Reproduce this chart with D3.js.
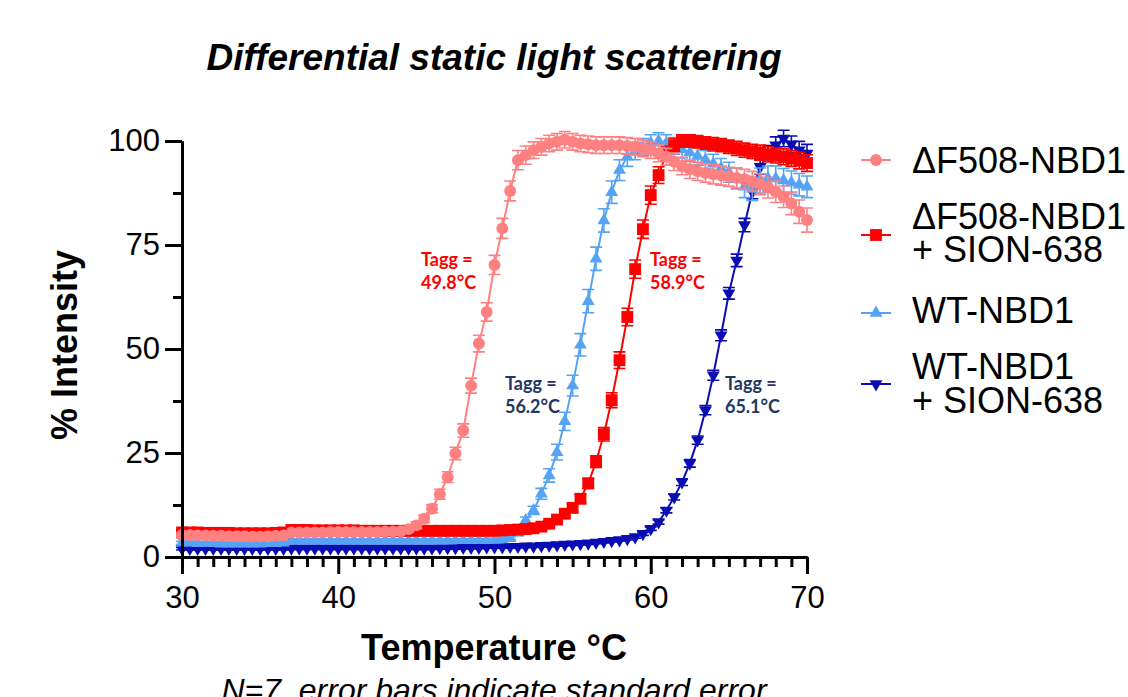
<!DOCTYPE html>
<html><head><meta charset="utf-8">
<script src="https://cdn.jsdelivr.net/npm/d3@7"></script>
<style>body{margin:0;background:#fff}svg{display:block}</style>
</head><body>
<svg id="chart" width="1128" height="697"></svg>
<script>
// ---------- DATA ----------
const temps = [30,30.5,31,31.5,32,32.5,33,33.5,34,34.5,35,35.5,36,36.5,37,37.5,38,38.5,39,39.5,40,40.5,41,41.5,42,42.5,43,43.5,44,44.5,45,45.5,46,46.5,47,47.5,48,48.5,49,49.5,50,50.5,51,51.5,52,52.5,53,53.5,54,54.5,55,55.5,56,56.5,57,57.5,58,58.5,59,59.5,60,60.5,61,61.5,62,62.5,63,63.5,64,64.5,65,65.5,66,66.5,67,67.5,68,68.5,69,69.5,70];

const seriesLabels = [["ΔF508-NBD1"], ["ΔF508-NBD1", "+ SION-638"], ["WT-NBD1"], ["WT-NBD1", "+ SION-638"]];

const dF508 = [5.3,5.3,5.2,5.2,5.1,5.1,5.0,5.0,5.0,4.9,4.9,5.0,5.1,5.2,
  5.9,5.9,5.9,5.9,5.9,6.0,6.0,6.0,6.0,6.0,6.0,6.0,6.1,6.1,6.2,
  6.7,7.6,9.2,11.6,15.1,19.2,24.9,30.4,41.2,51.3,58.9,70.2,79.0,88.0,95.4,
  96.6,97.8,98.6,99.4,99.8,100.3,99.8,99.4,99.2,99.0,99.0,99.0,99.0,98.8,98.6,98.2,97.8,
  97.0,96.2,95.0,94.0,93.2,92.7,92.3,92.0,91.7,91.4,91.1,90.8,90.3,89.6,88.8,87.8,86.6,85.0,83.0,81.0];
const dF508Err = [0.4,0.4,0.4,0.4,0.4,0.4,0.4,0.4,0.4,0.4,0.4,0.4,0.4,0.4,0.4,0.4,0.4,0.4,0.4,0.4,0.4,0.4,0.4,0.4,0.4,0.4,0.4,0.4,0.4,
  0.6,0.8,0.9,1.0,1.2,1.3,1.5,1.6,
  1.8,2.0,2.2,2.3,2.4,2.4,2.3,2.2,
  2.0,2.0,2.0,2.0,2.0,2.0,2.0,2.0,2.0,2.0,2.0,2.0,2.0,2.0,2.0,2.0,
  2.0,2.0,2.1,2.1,2.2,2.2,2.2,2.3,2.3,2.3,2.4,2.4,2.4,2.5,2.5,2.6,2.6,2.7,2.8,2.9];

const dF508Sion = [5.9,5.9,5.9,5.8,5.8,5.8,5.8,5.7,5.7,5.7,5.7,5.7,5.8,5.9,
  6.5,6.5,6.5,6.4,6.4,6.4,6.4,6.4,6.4,6.3,6.3,6.3,6.3,6.3,6.3,6.3,6.3,6.3,6.3,6.3,6.3,6.3,6.3,6.3,6.3,6.3,6.3,
  6.4,6.5,6.6,6.7,6.9,7.3,8.0,9.0,10.4,11.8,14.0,
  17.7,22.9,29.5,37.7,47.3,57.7,69.2,78.8,87.0,91.8,97.0,99.0,
  100.0,100.0,99.8,99.5,99.2,99.0,98.6,98.2,97.8,97.5,97.2,96.8,96.5,96.2,95.8,95.3,94.7];
const dF508SionErr = [0.4,0.4,0.4,0.4,0.4,0.4,0.4,0.4,0.4,0.4,0.4,0.4,0.4,0.4,0.4,0.4,0.4,0.4,0.4,0.4,0.4,0.4,0.4,0.4,0.4,0.4,0.4,0.4,0.4,0.4,0.4,0.4,0.4,0.4,0.4,0.4,0.4,0.4,0.4,0.4,0.4,
  0.4,0.5,0.5,0.5,0.6,0.6,0.7,0.8,0.9,1.0,1.1,
  1.2,1.4,1.6,1.8,2.0,2.1,2.2,2.2,2.2,2.0,1.8,1.6,
  1.5,1.5,1.5,1.5,1.6,1.6,1.6,1.7,1.7,1.7,1.8,1.8,1.8,1.9,1.9,2.0,2.0];

const wt = [3.4,3.4,3.3,3.3,3.3,3.2,3.2,3.2,3.2,3.2,3.2,3.3,3.3,3.4,
  3.9,3.9,3.9,3.9,3.9,3.9,3.9,3.9,3.9,3.9,3.9,3.9,3.9,3.9,3.9,3.9,3.9,3.9,3.9,3.9,3.9,4.0,4.0,4.0,4.0,4.0,4.1,4.2,4.5,
  5.8,8.8,11.2,15.2,19.6,25.2,32.6,41.2,51.0,61.5,
  71.7,80.9,87.7,93.0,96.2,97.6,98.6,99.5,100.0,99.5,
  98.8,98.0,97.2,96.4,95.5,94.5,93.5,92.5,91.0,89.0,88.5,90.5,91.0,91.0,90.5,90.0,89.5,89.0];
const wtErr = [0.4,0.4,0.4,0.4,0.4,0.4,0.4,0.4,0.4,0.4,0.4,0.4,0.4,0.4,0.4,0.4,0.4,0.4,0.4,0.4,0.4,0.4,0.4,0.4,0.4,0.4,0.4,0.4,0.4,0.4,0.4,0.4,0.4,0.4,0.4,0.4,0.4,0.4,0.4,0.4,0.4,0.4,0.4,
  0.6,0.8,1.0,1.3,1.6,1.9,2.2,2.5,2.7,2.8,
  2.8,2.8,2.7,2.5,2.3,2.1,2.0,2.0,2.0,2.0,
  2.0,2.1,2.1,2.2,2.2,2.3,2.3,2.4,2.5,2.6,2.8,3.0,3.0,3.0,2.9,2.8,2.7,2.6];

const wtSion = [2.0,2.0,2.0,2.0,2.0,2.0,2.0,2.0,2.0,2.0,2.0,2.0,2.0,2.0,
  2.1,2.1,2.1,2.1,2.1,2.1,2.1,2.1,2.1,2.1,2.1,2.1,2.1,2.1,2.1,2.1,2.1,2.1,2.1,
  2.2,2.2,2.2,2.3,2.3,2.3,2.4,2.4,2.4,2.5,2.5,2.6,
  2.6,2.7,2.8,2.9,3.0,3.1,3.2,3.3,3.5,3.7,3.9,4.1,
  4.4,4.8,5.6,6.8,8.4,11.2,14.4,18.0,22.5,28.1,35.3,43.7,53.3,63.4,71.3,79.8,87.8,93.8,97.0,99.0,100.6,99.2,97.8,97.0];
const wtSionErr = [0.3,0.3,0.3,0.3,0.3,0.3,0.3,0.3,0.3,0.3,0.3,0.3,0.3,0.3,0.3,0.3,0.3,0.3,0.3,0.3,0.3,0.3,0.3,0.3,0.3,0.3,0.3,0.3,0.3,0.3,0.3,0.3,0.3,0.3,0.3,0.3,0.3,0.3,0.3,0.3,0.3,0.3,0.3,0.3,0.3,0.3,0.3,0.3,0.3,0.3,0.3,0.3,0.3,0.3,0.3,0.3,0.3,
  0.3,0.3,0.4,0.4,0.5,0.6,0.7,0.8,0.9,1.0,1.1,1.2,
  1.3,1.4,1.5,1.6,1.7,1.8,1.9,2.0,2.0,2.0,2.1,2.2];

const taggValues = ["49.8", "58.9", "56.2", "65.1"];
const xTicks = [30, 40, 50, 60, 70];
const xMinorTicks = [31,32,33,34,35,36,37,38,39,41,42,43,44,45,46,47,48,49,51,52,53,54,55,56,57,58,59,61,62,63,64,65,66,67,68,69];
const yTicks = [0, 25, 50, 75, 100];
const yMinorTicks = [12.5, 37.5, 62.5, 87.5];
const titleText = "Differential static light scattering";
const xLabel = "Temperature °C";
const yLabel = "% Intensity";
const footnote = "N=7, error bars indicate standard error";

// ---------- CHART ----------
const FONT = "'Liberation Sans', Arial, sans-serif";
const svg = d3.select("#chart");
svg.append("rect").attr("width", 1128).attr("height", 697).attr("fill", "#fff");

const x = d3.scaleLinear().domain([30, 70]).range([182, 807]);
const y = d3.scaleLinear().domain([0, 100]).range([557, 141]);

const colors = ["#FF8080", "#FF0000", "#55A3F5", "#0A0DB4"];
const seriesData = [
  {vals: dF508, err: dF508Err, sym: d3.symbolCircle, size: 112, rot: 0},
  {vals: dF508Sion, err: dF508SionErr, sym: d3.symbolSquare, size: 140, rot: 0},
  {vals: wt, err: wtErr, sym: d3.symbolTriangle, size: 72, rot: 0},
  {vals: wtSion, err: wtSionErr, sym: d3.symbolTriangle, size: 72, rot: 180}
];

// draw back to front: last series at back
const plot = svg.append("g");
for (let s = seriesData.length - 1; s >= 0; s--) {
  const sd = seriesData[s];
  const col = colors[s];
  const pts = temps.map((t, i) => ({t, v: sd.vals[i], e: sd.err[i]}));
  const g = plot.append("g");
  g.append("path").datum(pts)
    .attr("fill", "none").attr("stroke", col).attr("stroke-width", 2)
    .attr("d", d3.line().x(d => x(d.t)).y(d => y(d.v)));
  g.selectAll("path.eb").data(pts).join("path").attr("class", "eb")
    .attr("fill", "none").attr("stroke", col).attr("stroke-width", 1.6)
    .attr("d", d => {
      const cx = x(d.t), y1 = y(d.v + d.e), y2 = y(d.v - d.e);
      return `M${cx-6},${y1}H${cx+6}M${cx},${y1}V${y2}M${cx-6},${y2}H${cx+6}`;
    });
  const symGen = d3.symbol().type(sd.sym).size(sd.size);
  g.selectAll("path.mk").data(pts).join("path").attr("class", "mk")
    .attr("fill", col).attr("stroke", "none")
    .attr("transform", d => `translate(${x(d.t)},${y(d.v)}) rotate(${sd.rot})`)
    .attr("d", symGen());
}

// axes
const axisStyle = g => {
  g.select(".domain").attr("stroke", "#000").attr("stroke-width", 3);
  g.selectAll(".tick line").attr("stroke", "#000").attr("stroke-width", 3);
  g.selectAll(".tick text").attr("fill", "#000").style("font-family", FONT).style("font-size", "31px");
};
svg.append("g").attr("transform", "translate(0,557)")
  .call(d3.axisBottom(x).tickValues(xMinorTicks).tickSize(10).tickSizeOuter(0).tickFormat(""))
  .call(axisStyle);
svg.append("g").attr("transform", "translate(0,557)")
  .call(d3.axisBottom(x).tickValues(xTicks).tickSize(17).tickSizeOuter(0).tickPadding(12).tickFormat(d3.format("d")))
  .call(axisStyle);
svg.append("g").attr("transform", "translate(182,0)")
  .call(d3.axisLeft(y).tickValues(yMinorTicks).tickSize(9).tickSizeOuter(0).tickFormat(""))
  .call(axisStyle);
svg.append("g").attr("transform", "translate(182,0)")
  .call(d3.axisLeft(y).tickValues(yTicks).tickSize(17).tickSizeOuter(0).tickPadding(5).tickFormat(d3.format("d")))
  .call(axisStyle);

// title & labels
svg.append("text").attr("x", 494).attr("y", 70).attr("text-anchor", "middle")
  .style("font-family", FONT).style("font-size", "37px").style("font-weight", "bold").style("font-style", "italic")
  .text(titleText);
svg.append("text").attr("x", 494).attr("y", 660).attr("text-anchor", "middle")
  .style("font-family", FONT).style("font-size", "36px").style("font-weight", "bold")
  .text(xLabel);
svg.append("text").attr("transform", "translate(77,345) rotate(-90)").attr("text-anchor", "middle")
  .style("font-family", FONT).style("font-size", "36px").style("font-weight", "bold")
  .text(yLabel);
svg.append("text").attr("x", 494).attr("y", 701).attr("text-anchor", "middle")
  .style("font-family", FONT).style("font-size", "32px").style("font-style", "italic")
  .text(footnote);

// Tagg annotations (anchored in data coordinates)
const annColors = ["#FF0000", "#FF0000", "#1F3763", "#1F3763"];
const annPos = [[45.3, 70], [59.95, 70], [50.67, 40.2], [64.75, 40.2]];
taggValues.forEach((v, i) => {
  const t = svg.append("text")
    .attr("x", x(annPos[i][0])).attr("y", y(annPos[i][1]))
    .attr("fill", annColors[i])
    .style("font-family", "Lato, 'Open Sans', sans-serif").style("font-size", "18px").style("font-weight", "bold");
  t.append("tspan").attr("x", x(annPos[i][0])).attr("dy", 0).text("Tagg =");
  t.append("tspan").attr("x", x(annPos[i][0])).attr("dy", 23).text(v + "°C");
});

// legend
const legMarkerY = [160, 235, 313, 384];
const legTextY = [[173], [229, 262], [323], [379, 413]];
seriesData.forEach((sd, i) => {
  const g = svg.append("g");
  g.append("line").attr("x1", 861).attr("x2", 891).attr("y1", legMarkerY[i]).attr("y2", legMarkerY[i])
    .attr("stroke", colors[i]).attr("stroke-width", 2);
  g.append("path").attr("d", d3.symbol().type(sd.sym).size(sd.size)())
    .attr("transform", `translate(876,${legMarkerY[i]}) rotate(${sd.rot})`)
    .attr("fill", colors[i]);
  seriesLabels[i].forEach((line, j) => {
    g.append("text").attr("x", 912).attr("y", legTextY[i][j])
      .style("font-family", FONT).style("font-size", "36px").attr("fill", "#000")
      .text(line);
  });
});
</script>
</body></html>
